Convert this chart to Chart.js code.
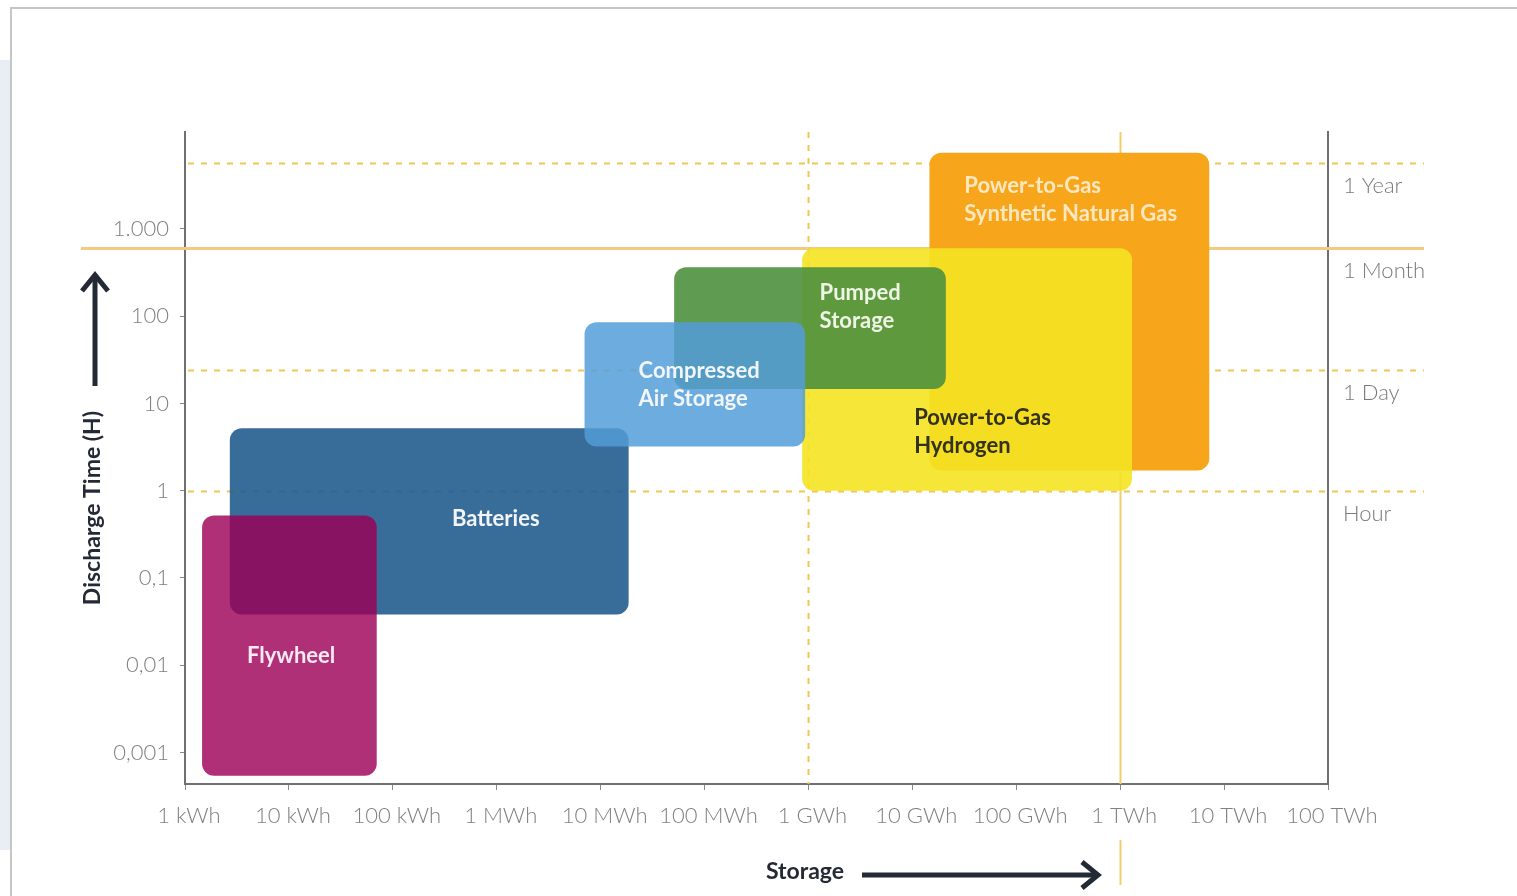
<!DOCTYPE html>
<html lang="en">
<head>
<meta charset="UTF-8">
<title>Energy storage - discharge time vs storage</title>
<style>
    html, body { margin: 0; padding: 0; background: #fff; overflow: hidden; }
    .side { position: absolute; left: 0; top: 60px; width: 11px; height: 790px; background: #e8eef3; }
    .frame { position: absolute; left: 10px; top: 7px; width: 1530px; height: 920px; border: 2px solid #c6c6c6; box-sizing: border-box; }
    #chart { position: absolute; left: 0; top: 0; }
</style>
</head>
<body>
<div class="side"></div>
<div class="frame"></div>
<canvas id="chart" width="1517" height="896"></canvas>

<script src="https://cdn.jsdelivr.net/npm/chart.js"></script>
<script>
    // axes (storage in kWh, discharge time in hours)
    const xTicks = [1, 10, 1e2, 1e3, 1e4, 1e5, 1e6, 1e7, 1e8, 1e9, 1e10, 1e11];
    const xLabels = ['1 kWh', '10 kWh', '100 kWh', '1 MWh', '10 MWh', '100 MWh', '1 GWh', '10 GWh', '100 GWh', '1 TWh', '10 TWh', '100 TWh'];
    const yTicks = [0.001, 0.01, 0.1, 1, 10, 100, 1000];
    const yLabels = ['0,001', '0,01', '0,1', '1', '10', '100', '1.000'];

    // reference periods on the right
    const periodHours = [1, 24, 600, 5750];
    const periodLabels = ['Hour', '1 Day', '1 Month', '1 Year'];
    const periodSolid = [false, false, true, false];
    const storageMarks = [1e6, 1e9];          // 1 GWh, 1 TWh
    const storageMarkSolid = [false, true];

    // technologies, in drawing order
    const techNames = [
        ['Power-to-Gas', 'Synthetic Natural Gas'],
        ['Power-to-Gas', 'Hydrogen'],
        ['Pumped', 'Storage'],
        ['Batteries'],
        ['Compressed', 'Air Storage'],
        ['Flywheel']
    ];
    const storageMin = [1.46e7, 8.7e5, 5.1e4, 2.7, 7.0e3, 1.46];
    const storageMax = [7.2e9, 1.3e9, 2.1e7, 1.86e4, 9.3e5, 70];
    const hoursMin = [1.7, 1.0, 14.6, 0.038, 3.2, 0.00054];
    const hoursMax = [7450, 600, 363, 5.2, 85, 0.52];
    const labelStorage = [3.16e7, 1.04e7, 1.28e6, 978, 2.32e4, 10.5];
    const labelHours = [3076, 6.77, 183, 0.47, 23.4, 0.0127];

    const boxColors = ['rgb(247,165,27)', 'rgba(244,227,34,0.9)', 'rgba(78,145,62,0.9)',
                       'rgba(34,92,142,0.9)', 'rgba(84,157,216,0.85)', 'rgba(156,0,88,0.81)'];
    const textColors = ['#fde7bf', '#33321c', '#eef5e6', '#f1f5f9', '#f1f6fb', '#f8e8f1'];
    const textAlign = ['left', 'left', 'left', 'center', 'left', 'center'];

    const yMin = 4.35e-4, yMax = 1.29e4;
    const tickFont = { family: 'Lato', size: 22, weight: 300 };

    const overlay = {
        id: 'overlay',
        beforeDatasetsDraw(chart) {
            const { ctx, chartArea: a, scales: { x, y } } = chart;
            ctx.save();
            // horizontal period lines
            periodHours.forEach((h, i) => {
                const py = Math.round(y.getPixelForValue(h)) + 0.5;
                ctx.beginPath();
                ctx.strokeStyle = periodSolid[i] ? '#f4ca82' : '#efc655';
                ctx.lineWidth = periodSolid[i] ? 3 : 2;
                ctx.setLineDash(periodSolid[i] ? [] : [6, 7]);
                ctx.moveTo(periodSolid[i] ? 81 : a.left + 3, py);
                ctx.lineTo(a.right + 96, py);
                ctx.stroke();
            });
            // vertical storage marks
            storageMarks.forEach((v, i) => {
                const px = Math.round(x.getPixelForValue(v)) + 0.5;
                ctx.beginPath();
                ctx.strokeStyle = storageMarkSolid[i] ? '#f2cd6a' : '#efc655';
                ctx.lineWidth = 2;
                ctx.setLineDash(storageMarkSolid[i] ? [] : [6, 7]);
                ctx.moveTo(px, a.top);
                ctx.lineTo(px, a.bottom);
                if (storageMarkSolid[i]) {
                    ctx.moveTo(px, a.bottom + 56);
                    ctx.lineTo(px, a.bottom + 101);
                }
                ctx.stroke();
            });
            ctx.setLineDash([]);
            // technology boxes
            techNames.forEach((t, i) => {
                const x0 = x.getPixelForValue(storageMin[i]);
                const x1 = x.getPixelForValue(storageMax[i]);
                const y0 = y.getPixelForValue(hoursMax[i]);
                const y1 = y.getPixelForValue(hoursMin[i]);
                ctx.fillStyle = boxColors[i];
                ctx.beginPath();
                ctx.roundRect(x0, y0, x1 - x0, y1 - y0, 12);
                ctx.fill();
            });
            ctx.restore();
        },
        afterDatasetsDraw(chart) {
            const { ctx, scales: { x, y } } = chart;
            ctx.save();
            ctx.font = 'bold 22px Lato';
            ctx.textBaseline = 'middle';
            techNames.forEach((lines, i) => {
                const px = x.getPixelForValue(labelStorage[i]);
                const py = y.getPixelForValue(labelHours[i]);
                ctx.fillStyle = textColors[i];
                ctx.textAlign = textAlign[i];
                lines.forEach((s, j) => ctx.fillText(s, px, py + j * 28));
            });
            ctx.restore();
        },
        afterDraw(chart) {
            const { ctx, chartArea: a } = chart;
            ctx.save();
            ctx.fillStyle = '#232a36';
            ctx.strokeStyle = '#232a36';
            ctx.font = 'bold 23px Lato';
            ctx.textAlign = 'center';
            ctx.textBaseline = 'middle';

            // y title + arrow
            ctx.save();
            ctx.translate(a.left - 92, 508);
            ctx.rotate(-Math.PI / 2);
            ctx.fillText('Discharge Time (H)', 0, 0);
            ctx.restore();
            const ax = a.left - 90;
            ctx.lineWidth = 5;
            ctx.beginPath();
            ctx.moveTo(ax, 386); ctx.lineTo(ax, 277);
            ctx.stroke();
            ctx.beginPath();
            ctx.moveTo(ax - 13, 291); ctx.lineTo(ax, 275); ctx.lineTo(ax + 13, 291);
            ctx.stroke();

            // x title + arrow
            ctx.fillText('Storage', 805, 872);
            ctx.beginPath();
            ctx.moveTo(862, 875); ctx.lineTo(1095, 875);
            ctx.stroke();
            ctx.beginPath();
            ctx.moveTo(1082, 862); ctx.lineTo(1098, 875); ctx.lineTo(1082, 888);
            ctx.stroke();
            ctx.restore();
        }
    };

    new Chart(document.getElementById('chart').getContext('2d'), {
        type: 'scatter',
        data: { datasets: [] },
        options: {
            responsive: false,
            animation: false,
            layout: { padding: { left: 0, right: 0, top: 132, bottom: 0 } },
            plugins: { legend: { display: false }, tooltip: { enabled: false } },
            scales: {
                x: {
                    type: 'logarithmic', position: 'bottom', min: 1, max: 1e11,
                    afterBuildTicks: s => { s.ticks = xTicks.map(v => ({ value: v })); },
                    afterFit: s => { s.height = 112; },
                    ticks: { callback: (v, i) => xLabels[i], autoSkip: false, maxRotation: 0, padding: 13, labelOffset: 4, color: '#808080', font: tickFont },
                    grid: { drawOnChartArea: false, tickLength: 6, color: '#8a8a8a', tickColor: '#8a8a8a' },
                    border: { color: '#707070', width: 2 }
                },
                y: {
                    type: 'logarithmic', position: 'left', min: yMin, max: yMax,
                    afterBuildTicks: s => { s.ticks = yTicks.map(v => ({ value: v })); },
                    afterFit: s => { s.width = 185; },
                    ticks: { callback: (v, i) => yLabels[i], autoSkip: false, padding: 11, color: '#808080', font: tickFont },
                    grid: { drawOnChartArea: false, tickLength: 5, color: '#8a8a8a', tickColor: '#8a8a8a' },
                    border: { color: '#707070', width: 2 }
                },
                y2: {
                    type: 'logarithmic', position: 'right', min: yMin, max: yMax,
                    afterBuildTicks: s => { s.ticks = periodHours.map(v => ({ value: v })); },
                    afterFit: s => { s.width = 1517 - 1328; },
                    ticks: { callback: (v, i) => periodLabels[i], autoSkip: false, padding: 7, labelOffset: 23, color: '#7a7a7a', font: tickFont },
                    grid: { display: false },
                    border: { color: '#707070', width: 2 }
                }
            }
        },
        plugins: [overlay]
    });
</script>
</body>
</html>
